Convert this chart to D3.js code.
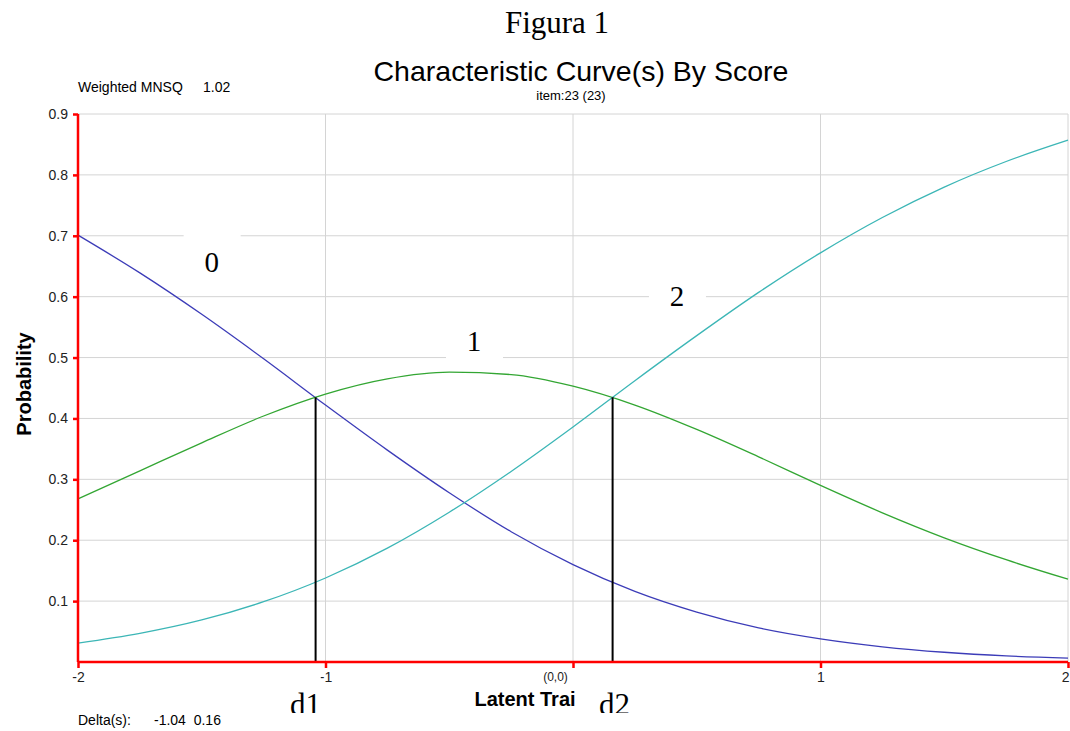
<!DOCTYPE html>
<html>
<head>
<meta charset="utf-8">
<script src="https://cdn.jsdelivr.net/npm/d3@7"></script>
<style>
  body { margin: 0; background: #fff; }
  svg { display: block; }
</style>
</head>
<body>
<svg id="chart" width="1070" height="731"></svg>
<script>
// latent trait samples and probability of each score
const theta = [-2, -1.75, -1.5, -1.25, -1, -0.75, -0.5, -0.25, 0, 0.25, 0.5, 0.75, 1, 1.25, 1.5, 1.75, 2];
const score0 = [0.701, 0.639, 0.571, 0.498, 0.422, 0.348, 0.278, 0.214, 0.160, 0.116, 0.082, 0.056, 0.038, 0.025, 0.016, 0.010, 0.0065];
const score1 = [0.268, 0.314, 0.360, 0.404, 0.440, 0.465, 0.476, 0.472, 0.453, 0.422, 0.382, 0.337, 0.290, 0.245, 0.204, 0.168, 0.136];
const score2 = [0.031, 0.047, 0.069, 0.099, 0.138, 0.187, 0.246, 0.313, 0.386, 0.462, 0.536, 0.607, 0.672, 0.730, 0.780, 0.822, 0.857];
const deltas = [-1.04, 0.16];
const deltaNames = ['d1', 'd2'];
const crossProb = 0.435;   // height where neighbouring curves cross

const yTicks = [0.1, 0.2, 0.3, 0.4, 0.5, 0.6, 0.7, 0.8, 0.9];
const xTicks = [-2, -1, 0, 1, 2];
const xTickLabels = ['-2', '-1', '(0,0)', '1', '2'];

// curve labels: [text, theta, prob]
const curveLabels = [['0', -1.46, 0.655], ['1', -0.4, 0.525], ['2', 0.42, 0.6]];

const svg = d3.select('#chart');
const pLeft = 78, pRight = 1068, pTop = 114, pBottom = 662;

const x = d3.scaleLinear([-2, 2], [pLeft, pRight]);
const y = d3.scaleLinear([0, 0.9], [pBottom, pTop]);

const sans = 'Arial, "Liberation Sans", sans-serif';
const serif = '"Times New Roman", "Liberation Serif", serif';

// grid
svg.append('g')
  .selectAll('line')
  .data(yTicks)
  .join('line')
    .attr('x1', pLeft).attr('x2', pRight)
    .attr('y1', d => y(d)).attr('y2', d => y(d))
    .attr('stroke', '#d4d4d4');
svg.append('g')
  .selectAll('line')
  .data(xTicks.slice(1))
  .join('line')
    .attr('x1', d => x(d)).attr('x2', d => x(d))
    .attr('y1', pTop).attr('y2', pBottom)
    .attr('stroke', '#d4d4d4');

// white boxes behind the curve labels
const lbl = svg.append('g');
curveLabels.forEach(([t, th, p]) => {
  lbl.append('rect')
    .attr('x', x(th) - 28).attr('y', y(p) - 30)
    .attr('width', 57).attr('height', 62)
    .attr('fill', '#fff');
  lbl.append('text')
    .attr('x', x(th)).attr('y', y(p) + 9)
    .attr('text-anchor', 'middle')
    .attr('font-family', serif).attr('font-size', 29)
    .attr('fill', '#000')
    .text(t);
});

// curves
const line = d3.line()
  .x(d => x(d[0]))
  .y(d => y(d[1]))
  .curve(d3.curveMonotoneX);
const series = [
  { v: score0, color: '#3c3cb8' },
  { v: score1, color: '#33a633' },
  { v: score2, color: '#3cb6b6' }
];
svg.append('g')
  .selectAll('path')
  .data(series)
  .join('path')
    .attr('d', s => line(theta.map((t, i) => [t, s.v[i]])))
    .attr('fill', 'none')
    .attr('stroke', s => s.color)
    .attr('stroke-width', 1.3);

// delta markers
svg.append('g')
  .selectAll('line')
  .data(deltas)
  .join('line')
    .attr('x1', d => x(d)).attr('x2', d => x(d))
    .attr('y1', y(crossProb)).attr('y2', pBottom)
    .attr('stroke', '#000').attr('stroke-width', 2);

// axes (red)
const yAxis = svg.append('g')
  .attr('transform', `translate(${pLeft},0)`)
  .call(d3.axisLeft(y).tickValues(yTicks).tickSize(5).tickFormat(d3.format('.1f')));
const xAxis = svg.append('g')
  .attr('transform', `translate(0,${pBottom})`)
  .call(d3.axisBottom(x).tickValues(xTicks).tickSize(6).tickFormat((d, i) => xTickLabels[i]));
[yAxis, xAxis].forEach(g => {
  g.select('.domain').attr('stroke', '#f00').attr('stroke-width', 2.5);
  g.selectAll('.tick line').attr('stroke', '#f00').attr('stroke-width', 2.5);
  g.selectAll('.tick text')
    .attr('font-family', sans).attr('font-size', 14).attr('fill', '#222');
});
yAxis.select('.domain').attr('d', `M0,${pTop}V${pBottom}`);
xAxis.select('.domain').attr('d', `M${pLeft},0H${pRight}`);
yAxis.selectAll('.tick text').attr('x', -10);
xAxis.selectAll('.tick text').attr('y', 10);
xAxis.selectAll('.tick text').filter(d => d === 0)
  .attr('font-size', 12).attr('dx', -18);
xAxis.selectAll('.tick text').filter(d => d === 2)
  .attr('text-anchor', 'end').attr('dx', 1);

// axis titles
svg.append('text')
  .attr('transform', 'translate(31,384) rotate(-90)')
  .attr('text-anchor', 'middle')
  .attr('font-family', sans).attr('font-size', 20).attr('font-weight', 'bold')
  .text('Probability');
svg.append('text')
  .attr('x', 525).attr('y', 706)
  .attr('text-anchor', 'middle')
  .attr('font-family', sans).attr('font-size', 20).attr('font-weight', 'bold')
  .text('Latent Trai');

// d1 / d2 labels, cut off at the bottom
const dl = svg.append('g');
const dOffset = [-10, 2];
deltas.forEach((d, i) => {
  dl.append('rect')
    .attr('x', x(d) + dOffset[i] - 30).attr('y', i ? 684 : 672)
    .attr('width', i ? 66 : 45).attr('height', 60)
    .attr('fill', '#fff');
  dl.append('text')
    .attr('x', x(d) + dOffset[i]).attr('y', 715)
    .attr('text-anchor', 'middle')
    .attr('font-family', serif).attr('font-size', 31)
    .text(deltaNames[i]);
});
svg.append('rect')
  .attr('x', 0).attr('y', 713).attr('width', 1070).attr('height', 18)
  .attr('fill', '#fff');

// titles and notes
svg.append('text')
  .attr('x', 557).attr('y', 33)
  .attr('text-anchor', 'middle')
  .attr('font-family', serif).attr('font-size', 31)
  .text('Figura 1');
svg.append('text')
  .attr('x', 581).attr('y', 81)
  .attr('text-anchor', 'middle')
  .attr('font-family', sans).attr('font-size', 28.5)
  .text('Characteristic Curve(s) By Score');
svg.append('text')
  .attr('x', 571).attr('y', 100)
  .attr('text-anchor', 'middle')
  .attr('font-family', sans).attr('font-size', 13)
  .text('item:23 (23)');
svg.append('text')
  .attr('x', 78).attr('y', 92)
  .attr('font-family', sans).attr('font-size', 14)
  .text('Weighted MNSQ');
svg.append('text')
  .attr('x', 203).attr('y', 92)
  .attr('font-family', sans).attr('font-size', 14)
  .text('1.02');
svg.append('text')
  .attr('x', 78).attr('y', 725)
  .attr('font-family', sans).attr('font-size', 14)
  .text('Delta(s):');
svg.append('text')
  .attr('x', 154).attr('y', 725)
  .attr('font-family', sans).attr('font-size', 14)
  .attr('xml:space', 'preserve')
  .text('-1.04  0.16');
</script>
</body>
</html>
